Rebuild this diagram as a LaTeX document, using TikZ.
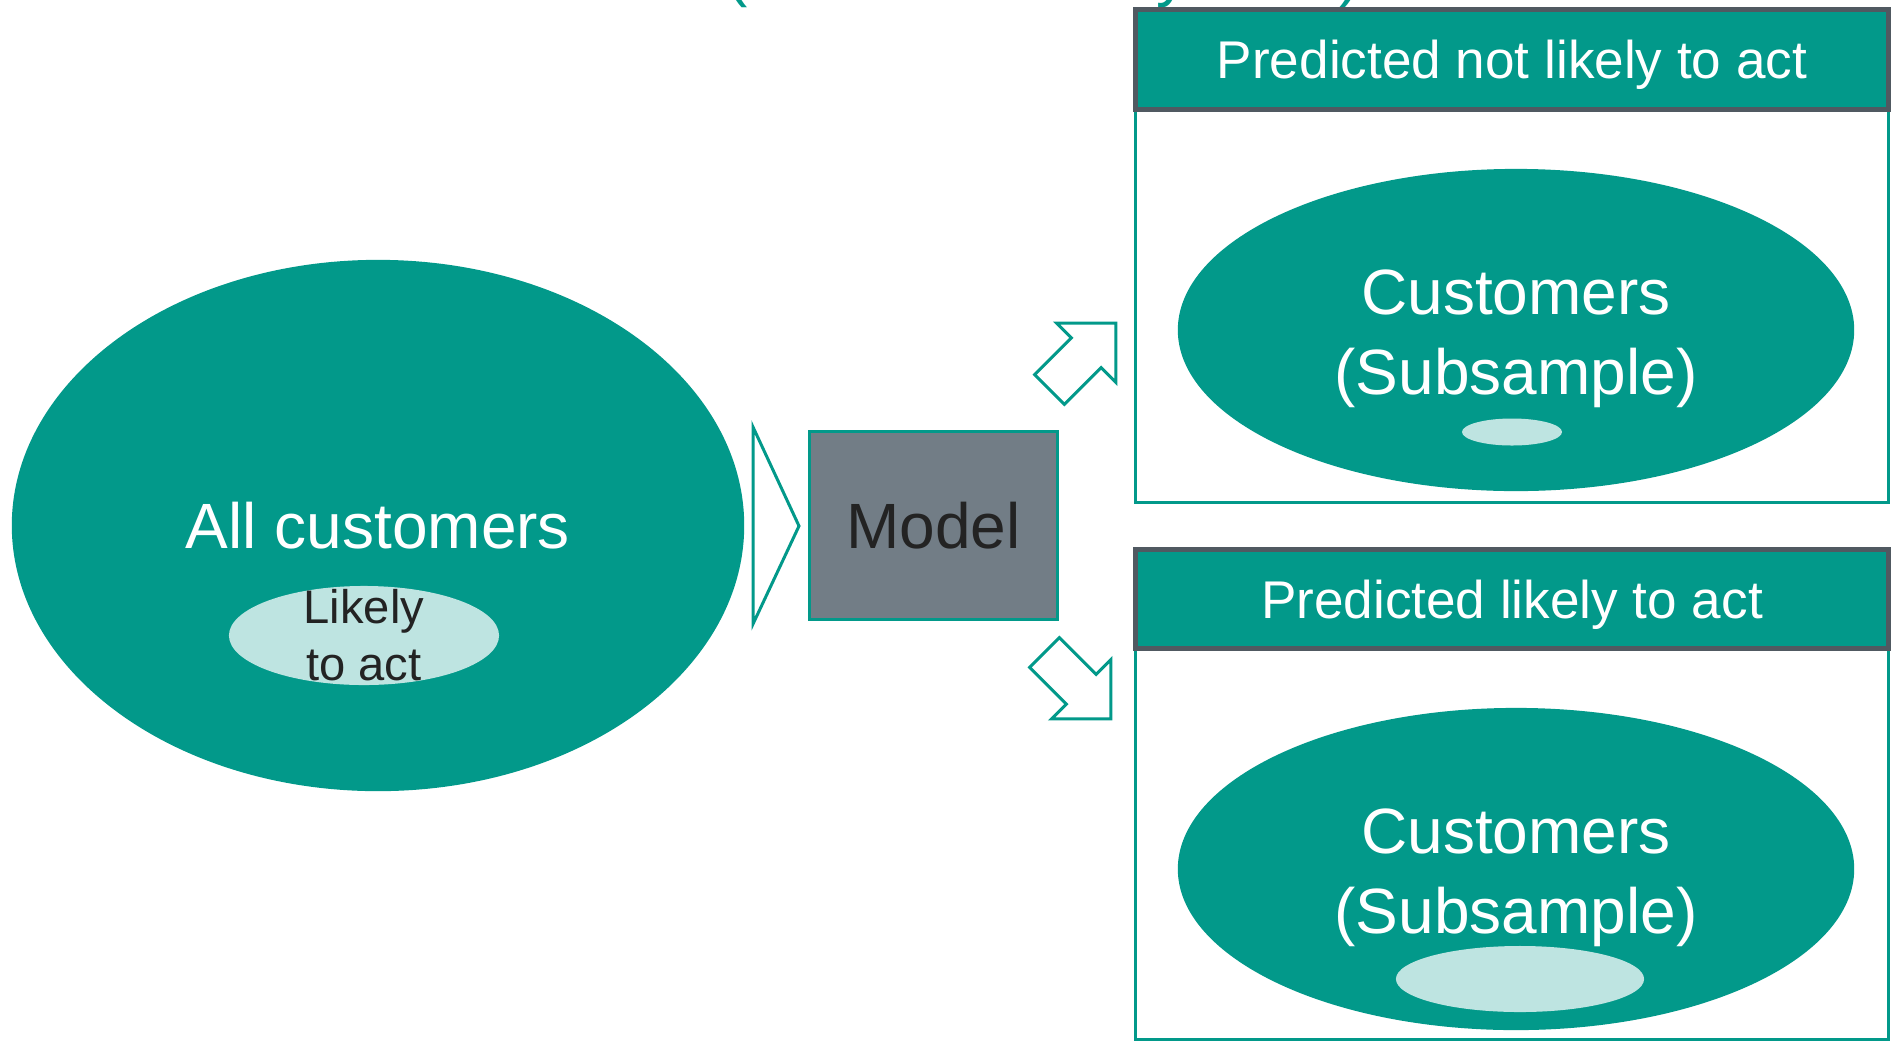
\documentclass[tikz,border=0pt]{standalone}
\usepackage{fontspec}
\setmainfont{Liberation Sans}
\usepackage{tikz}
\usetikzlibrary{shapes.geometric,positioning}

\definecolor{accent}{RGB}{2,153,138}
\definecolor{lightaccent}{RGB}{190,228,225}
\definecolor{modelgray}{RGB}{114,125,134}
\definecolor{headgray}{RGB}{80,89,97}
\definecolor{inkdark}{RGB}{35,35,35}

\begin{document}
\begin{tikzpicture}[x=0.01cm, y=-0.01cm,
    oval/.style={ellipse, fill=accent, inner sep=0pt, text=white, align=center, font=\fontsize{18.2}{22.8}\selectfont},
    ovaltext/.style={text=white, inner sep=0pt, align=center, font=\fontsize{18.2}{22.8}\selectfont},
    spot/.style={ellipse, fill=lightaccent, inner sep=0pt},
    header/.style={rectangle, draw=headgray, line width=0.05cm, fill=accent, text=white, text depth=0pt, minimum width=7.53cm, minimum height=1.0cm, font=\fontsize{15.1}{18}\selectfont},
    panel/.style={rectangle, draw=accent, line width=0.03cm, fill=white, minimum width=7.53cm},
    hollow/.style={draw=accent, line width=0.03cm, fill=white, line join=miter},
    frag/.style={text=accent, inner sep=0pt, anchor=base, font=\fontsize{18.2}{22.8}\selectfont},
    blockarrow/.pic={\path[hollow] (0,-21) -- (52,-21) -- (52,-42) -- (94,0) -- (52,42) -- (52,21) -- (0,21) -- cycle;}]

    \useasboundingbox (0,0) rectangle (1894,1045);

    % Cut-off line at the top edge
    \node [frag] (fragopen) at (737,-6) {(};
    \node [frag] (fragmid) at (1172,-6) {y};
    \node [frag] (fragclose) at (1350,-6) {)};

    % Nodes
    \node [oval, minimum width=7.32cm, minimum height=5.31cm] (all) at (378,525.5) {All customers};
    \node [spot, minimum width=2.7cm, minimum height=0.99cm] (likely) at (364,635.5) {};
    \node [text=inkdark, align=center, inner sep=0pt, font=\fontsize{13.4}{16.2}\selectfont] (likelytext) at (likely) {Likely\\to act};

    \node [rectangle, draw=accent, line width=0.03cm, fill=modelgray, text=inkdark, minimum width=2.48cm, minimum height=1.88cm, font=\fontsize{18.2}{22.8}\selectfont] (model) at (933.5,525.5) {Model};

    \node [panel, minimum height=4.025cm] (notpanel) at (1512,301.25) {};
    \node [header] (nothead) at (1512,59.5) {Predicted not likely to act};
    \node [oval, minimum width=6.76cm, minimum height=3.22cm] (notgroup) at (1516,330) {};
    \node [ovaltext] (nottext) at (1516,338.5) {Customers\\(Subsample)};
    \node [spot, minimum width=1.0cm, minimum height=0.27cm] (notspot) at (1512,432) {};

    \node [panel, minimum height=3.995cm] (likelypanel) at (1512,839.75) {};
    \node [header, minimum height=0.98cm] (likelyhead) at (1512,599) {Predicted likely to act};
    \node [oval, minimum width=6.76cm, minimum height=3.22cm] (likelygroup) at (1516,869) {};
    \node [ovaltext] (likelygrouptext) at (1516,877.5) {Customers\\(Subsample)};
    \node [spot, minimum width=2.48cm, minimum height=0.66cm] (likelyspot) at (1520,979) {};

    % Arrows
    \path [hollow] (753,427) -- (799,526) -- (753,624) -- cycle;
    \pic [rotate=45] at (1049.5,389.5) {blockarrow};
    \pic [rotate=-45] at (1044.5,652.5) {blockarrow};

\end{tikzpicture}
\end{document}
